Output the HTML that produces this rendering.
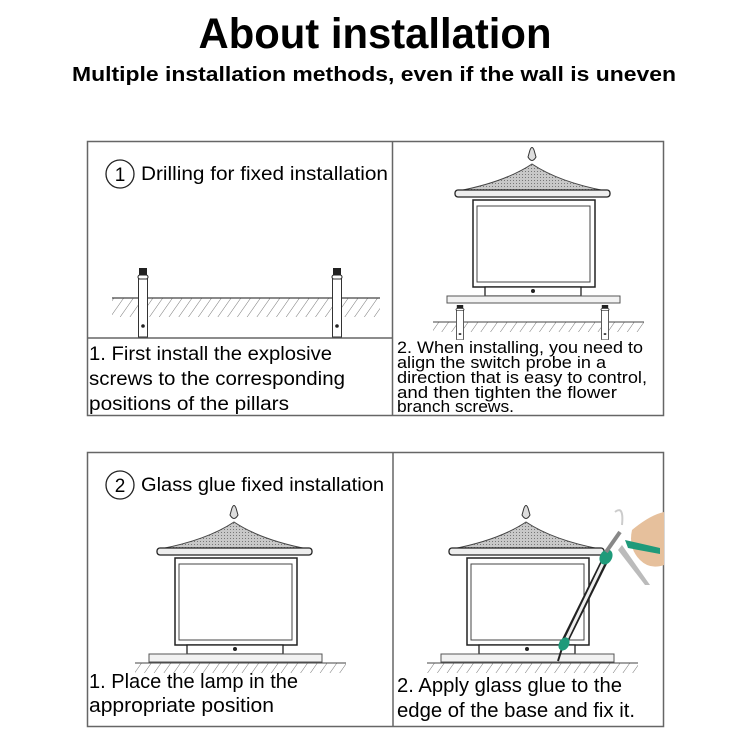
<!DOCTYPE html>
<html><head><meta charset="utf-8"><style>
html,body{margin:0;padding:0;background:#fff}
svg{display:block}
text{font-family:"Liberation Sans",sans-serif;fill:#000}
</style></head><body>
<svg width="750" height="750" viewBox="0 0 750 750">
<defs>
<pattern id="hatch" width="8" height="8" patternUnits="userSpaceOnUse" patternTransform="rotate(35)">
<line x1="0" y1="0" x2="0" y2="8" stroke="#777" stroke-width="1"/>
</pattern>
<pattern id="roof" width="3" height="3" patternUnits="userSpaceOnUse">
<rect width="3" height="3" fill="#c8c8c8"/><rect width="1" height="1" fill="#777"/>
</pattern>
<g id="lamp">
<path d="M530,150 Q532,145 534,150 L536,157 Q532,164 528,157 Z" fill="#ddd" stroke="#333"/>
<path d="M458,191 Q505,182 532,164 Q559,182 606,191 Z" fill="url(#roof)" stroke="#444"/>
<rect x="455" y="190" width="155" height="7" rx="3" fill="#eee" stroke="#222" stroke-width="1.3"/>
<rect x="473" y="200" width="122" height="87" fill="#fff" stroke="#222" stroke-width="1.5"/>
<rect x="477" y="206" width="113" height="76" fill="#fff" stroke="#444"/>
<rect x="485" y="287" width="96" height="9" fill="#fff" stroke="#222" stroke-width="1.3"/>
<circle cx="533" cy="291" r="2" fill="#222"/>
</g>
<g id="screw">
<rect x="-4" y="0" width="8" height="7" fill="#222"/>
<rect x="-5" y="7" width="10" height="4" rx="2" fill="#fff" stroke="#222"/>
<rect x="-4.5" y="11" width="9" height="58" fill="#fff" stroke="#333"/>
<circle cx="0" cy="58" r="1.8" fill="#222"/>
</g>
</defs>

<text x="375" y="48" text-anchor="middle" font-size="43" font-weight="bold" textLength="353" lengthAdjust="spacingAndGlyphs">About installation</text>
<text x="72" y="81" font-size="20" font-weight="bold" textLength="604" lengthAdjust="spacingAndGlyphs">Multiple installation methods, even if the wall is uneven</text>

<!-- top panel -->
<rect x="87.5" y="141.5" width="576" height="274" fill="none" stroke="#666" stroke-width="1.5"/>
<line x1="392.5" y1="141" x2="392.5" y2="416" stroke="#666" stroke-width="1.5"/>
<line x1="87" y1="338" x2="392" y2="338" stroke="#666" stroke-width="1.5"/>
<circle cx="120" cy="174" r="14" fill="none" stroke="#222" stroke-width="1.3"/>
<text x="120" y="181" text-anchor="middle" font-size="19">1</text>
<text x="141" y="180" font-size="19" textLength="247" lengthAdjust="spacingAndGlyphs">Drilling for fixed installation</text>
<rect x="112" y="298" width="268" height="19" fill="url(#hatch)"/>
<line x1="112" y1="298" x2="380" y2="298" stroke="#444" stroke-width="1.3"/>
<use href="#screw" x="143" y="268"/>
<use href="#screw" x="337" y="268"/>
<text x="89" y="360" font-size="19" textLength="243" lengthAdjust="spacingAndGlyphs">1. First install the explosive</text>
<text x="89" y="385" font-size="19" textLength="256" lengthAdjust="spacingAndGlyphs">screws to the corresponding</text>
<text x="89" y="410" font-size="19" textLength="200" lengthAdjust="spacingAndGlyphs">positions of the pillars</text>

<use href="#lamp"/>
<rect x="447" y="296" width="173" height="7" fill="#f2f2f2" stroke="#555"/>
<rect x="433" y="322" width="211" height="10" fill="url(#hatch)"/>
<line x1="433" y1="322" x2="644" y2="322" stroke="#444"/>
<g transform="translate(460,305) scale(0.8,0.5)"><use href="#screw"/></g>
<g transform="translate(605,305) scale(0.8,0.5)"><use href="#screw"/></g>
<text x="397" y="353" font-size="17" textLength="246" lengthAdjust="spacingAndGlyphs">2. When installing, you need to</text>
<text x="397" y="368" font-size="17" textLength="209" lengthAdjust="spacingAndGlyphs">align the switch probe in a</text>
<text x="397" y="383" font-size="17" textLength="250" lengthAdjust="spacingAndGlyphs">direction that is easy to control,</text>
<text x="397" y="398" font-size="17" textLength="220" lengthAdjust="spacingAndGlyphs">and then tighten the flower</text>
<text x="397" y="412" font-size="17" textLength="117" lengthAdjust="spacingAndGlyphs">branch screws.</text>

<!-- bottom panel -->
<rect x="87.5" y="452.5" width="576" height="274" fill="none" stroke="#666" stroke-width="1.5"/>
<line x1="393" y1="452" x2="393" y2="727" stroke="#666" stroke-width="1.5"/>
<circle cx="120" cy="485" r="14" fill="none" stroke="#222" stroke-width="1.3"/>
<text x="120" y="492" text-anchor="middle" font-size="19">2</text>
<text x="141" y="491" font-size="19" textLength="243" lengthAdjust="spacingAndGlyphs">Glass glue fixed installation</text>

<use href="#lamp" transform="translate(-298,358)"/>
<rect x="149" y="654" width="173" height="8" fill="#f2f2f2" stroke="#555"/>
<rect x="135" y="663" width="211" height="10" fill="url(#hatch)"/>
<line x1="135" y1="663" x2="346" y2="663" stroke="#444"/>
<text x="89" y="688" font-size="20" textLength="209" lengthAdjust="spacingAndGlyphs">1. Place the lamp in the</text>
<text x="89" y="712" font-size="20" textLength="185" lengthAdjust="spacingAndGlyphs">appropriate position</text>

<use href="#lamp" transform="translate(-6,358)"/>
<rect x="441" y="654" width="173" height="8" fill="#f2f2f2" stroke="#555"/>
<rect x="427" y="663" width="211" height="10" fill="url(#hatch)"/>
<line x1="427" y1="663" x2="638" y2="663" stroke="#444"/>
<!-- caulk gun -->
<line x1="558" y1="661" x2="563" y2="645" stroke="#222" stroke-width="2"/>
<line x1="563" y1="645" x2="607" y2="556" stroke="#222" stroke-width="7"/>
<line x1="564" y1="644" x2="606" y2="557" stroke="#eee" stroke-width="3"/>
<ellipse cx="564" cy="644" rx="7" ry="5" fill="#1f9a7a" transform="rotate(-60 564 644)"/>
<ellipse cx="606" cy="557" rx="8" ry="6" fill="#1f9a7a" transform="rotate(-60 606 557)"/>
<line x1="606" y1="552" x2="620" y2="532" stroke="#888" stroke-width="4"/>
<path d="M615,512 Q624,505 622,525" fill="none" stroke="#ccc" stroke-width="2"/>
<path d="M632,530 Q650,515 664,512 L664,565 Q650,570 640,560 Q628,548 632,530 Z" fill="#e6c09c"/>
<path d="M625,540 L660,548 L660,554 L628,548 Z" fill="#1f9a7a"/>
<path d="M622,545 L650,585 L645,585 L618,550 Z" fill="#bbb"/>
<text x="397" y="692" font-size="20" textLength="225" lengthAdjust="spacingAndGlyphs">2. Apply glass glue to the</text>
<text x="397" y="717" font-size="20" textLength="238" lengthAdjust="spacingAndGlyphs">edge of the base and fix it.</text>
</svg>
</body></html>
